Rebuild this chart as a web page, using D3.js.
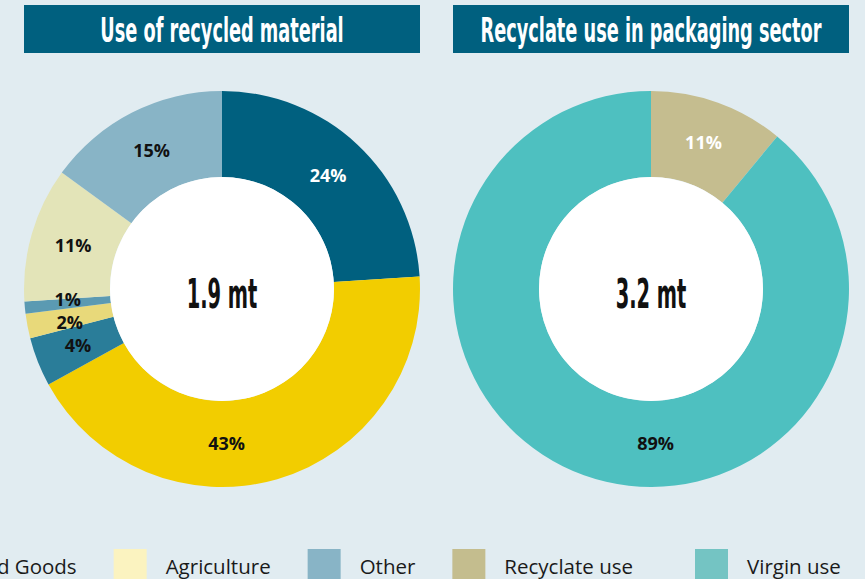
<!DOCTYPE html>
<html>
<head>
<meta charset="utf-8">
<script src="https://cdn.jsdelivr.net/npm/d3@7"></script>
<style>
    body { margin: 0; background: #e1ecf1; }
    svg { display: block; }
</style>
</head>
<body>
<svg id="chart" width="865" height="579"></svg>
<script>
// data - use of recycled material (left donut)
const materialNames = ["Packaging", "Building & Construction", "Automotive", "Electrical & Electronic", "Household Goods", "Agriculture", "Other"];
const materialShares = [24, 43, 4, 2, 1, 11, 15];
const materialColors = ["#00607f", "#f2cd00", "#2a7d99", "#e8d97a", "#5b9ab2", "#e3e4b8", "#88b4c6"];
const materialLabelColors = ["#ffffff", "#111111", "#111111", "#111111", "#111111", "#111111", "#111111"];
const materialLegendColors = ["#00607f", "#f2cd00", "#2a7d99", "#e8d97a", "#5b9ab2", "#fbf3c0", "#88b4c6"];
const materialTotal = "1.9 mt";

// data - recyclate use in packaging (right donut)
const packagingNames = ["Recyclate use", "Virgin use"];
const packagingShares = [11, 89];
const packagingColors = ["#c5bd8f", "#4ec0c0"];
const packagingLabelColors = ["#ffffff", "#111111"];
const packagingLegendColors = ["#c4bd8e", "#74c4c3"];
const packagingTotal = "3.2 mt";

const titles = ["Use of recycled material", "Recyclate use in packaging sector"];

const svg = d3.select("#chart");

const outerR = 198, innerR = 112, labelR = 155;
const cy = 289;
const condensed = "'DejaVu Sans Condensed', 'DejaVu Sans', sans-serif";

function drawDonut(cx, title, total, names, shares, colors, labelColors) {
    const g = svg.append("g").attr("transform", `translate(${cx},0)`);

    // title box
    g.append("rect")
        .attr("x", -outerR)
        .attr("y", 5)
        .attr("width", outerR * 2)
        .attr("height", 48)
        .attr("fill", "#00607f");
    g.append("text")
        .attr("transform", "translate(0,42) scale(0.58,1)")
        .attr("text-anchor", "middle")
        .style("font-family", condensed)
        .style("font-weight", "bold")
        .style("font-size", "34px")
        .style("fill", "#ffffff")
        .text(title);

    const pie = d3.pie().sort(null).value((d) => d);
    const arcs = pie(shares);
    const arc = d3.arc().innerRadius(innerR).outerRadius(outerR);

    const dg = g.append("g").attr("transform", `translate(0,${cy})`);
    dg.selectAll("path")
        .data(arcs)
        .enter()
        .append("path")
        .attr("d", arc)
        .attr("fill", (d, i) => colors[i]);

    // the hole
    dg.append("circle").attr("r", innerR).attr("fill", "#ffffff");

    // label positions - big slices get their label at the bottom
    const pos = arcs.map(function (d) {
        let a = (d.startAngle + d.endAngle) / 2;
        if (d.value > 30 && d.startAngle < Math.PI && d.endAngle > Math.PI) a = Math.PI - 0.03;
        return { x: labelR * Math.sin(a), y: -labelR * Math.cos(a) };
    });
    // push crowded labels apart vertically
    for (let k = 0; k < 20; k++) {
        for (let i = 0; i < pos.length; i++) {
            for (let j = i + 1; j < pos.length; j++) {
                const dx = Math.abs(pos[i].x - pos[j].x), dy = pos[j].y - pos[i].y;
                if (dx < 40 && Math.abs(dy) < 23) {
                    const shift = (23 - Math.abs(dy)) / 2 * (dy >= 0 ? 1 : -1);
                    pos[i].y -= shift;
                    pos[j].y += shift;
                }
            }
        }
    }

    dg.selectAll("text.pct")
        .data(arcs)
        .enter()
        .append("text")
        .attr("class", "pct")
        .attr("x", (d, i) => pos[i].x)
        .attr("y", (d, i) => pos[i].y)
        .attr("text-anchor", "middle")
        .attr("dy", "0.35em")
        .style("font-family", "'Open Sans', sans-serif")
        .style("font-weight", "bold")
        .style("font-size", "18px")
        .style("fill", (d, i) => labelColors[i])
        .text((d) => d.value + "%");

    dg.append("text")
        .attr("transform", "translate(0,19) scale(0.54,1)")
        .attr("text-anchor", "middle")
        .style("font-family", condensed)
        .style("font-weight", "bold")
        .style("font-size", "40px")
        .style("fill", "#111111")
        .text(total);
}

drawDonut(222, titles[0], materialTotal, materialNames, materialShares, materialColors, materialLabelColors);
drawDonut(651, titles[1], packagingTotal, packagingNames, packagingShares, packagingColors, packagingLabelColors);

// legend - one row (two groups), laid out from the right end leftwards
const legendItems = materialNames
    .map((n, i) => ({ name: n, color: materialLegendColors[i], group: 0 }))
    .concat(packagingNames.map((n, i) => ({ name: n, color: packagingLegendColors[i], group: 1 })));

const legend = svg.append("g");
const items = legend.selectAll("g")
    .data(legendItems)
    .enter()
    .append("g");
items.append("rect")
    .attr("y", 549)
    .attr("width", 33)
    .attr("height", 40)
    .attr("fill", (d) => d.color);
items.append("text")
    .attr("x", 52)
    .attr("y", 574)
    .style("font-family", "'Open Sans', sans-serif")
    .style("font-size", "20.5px")
    .style("fill", "#1a1a1a")
    .text((d) => d.name);

let xPos = 695;
const nodes = items.nodes();
for (let i = nodes.length - 1; i >= 0; i--) {
    d3.select(nodes[i]).attr("transform", `translate(${xPos},0)`);
    if (i > 0) {
        const prevW = d3.select(nodes[i - 1]).select("text").node().getComputedTextLength();
        // packaging legend items are spread a bit wider
        const gap = legendItems[i - 1].group === 1 ? 62 : 37;
        xPos = xPos - gap - prevW - 52;
    }
}
</script>
</body>
</html>
